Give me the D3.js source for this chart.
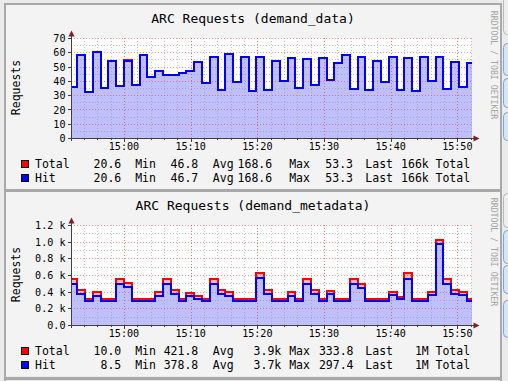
<!DOCTYPE html>
<html><head><meta charset="utf-8">
<script src="https://cdn.jsdelivr.net/npm/d3@7"></script>
<style>
html,body{margin:0;padding:0;background:#ebebeb;overflow:hidden}
svg{display:block}
text{font-family:"DejaVu Sans Mono",monospace;fill:#000}
</style></head><body>
<svg id="c" width="508" height="381"></svg>
<script>
// ---------- data ----------
const seriesNames = ["Total", "Hit"];
const dataTotal = [36.4,58.1,32.9,60.6,35.7,54.3,37.1,55.3,37.8,58.8,43.4,47.6,44.8,44.8,46.2,47.6,53.9,39.2,57.4,34.3,59.5,39.9,57.4,33.6,57.4,34.3,54.6,40.1,56.7,35.7,55.7,37.8,56.4,40.6,53.2,58.1,35.0,57.1,33.8,54.6,39.4,57.4,33.8,56.0,33.1,57.1,40.3,57.4,35.0,53.9,35.9,53.2];
const dataHit   = [36.4,58.1,32.9,60.6,35.7,54.3,37.1,54.6,37.8,58.8,43.4,47.6,44.8,44.8,46.2,47.6,53.9,39.2,57.4,34.3,59.5,39.9,57.4,33.6,57.4,34.3,54.6,40.1,56.7,35.7,55.7,37.8,56.4,40.6,53.2,58.1,35.0,57.1,33.8,54.6,39.4,57.4,33.8,56.0,33.1,57.1,40.3,57.4,35.0,53.9,35.9,53.2];
const metaTotal = [554,422,321,398,321,321,554,510,321,321,321,398,554,422,321,390,353,321,554,422,398,321,321,321,627,422,321,321,398,321,554,422,321,410,321,321,554,494,321,321,321,398,345,627,321,321,398,1025,554,422,398,321];
const metaHit   = [494,374,293,357,293,293,494,458,293,293,293,357,494,374,293,349,317,293,494,374,357,293,293,293,566,374,293,293,357,293,494,374,293,374,293,293,494,446,293,293,293,361,313,554,293,293,361,976,494,374,361,293];
const xTickLabels = ["15:00","15:10","15:20","15:30","15:40","15:50"];
const yTicksData = [0,10,20,30,40,50,60,70];
const yTickLabelsData = ["0","10","20","30","40","50","60","70"];
const yTicksMeta = [0,200,400,600,800,1000,1200];
const yTickLabelsMeta = ["0.0","0.2 k","0.4 k","0.6 k","0.8 k","1.0 k","1.2 k"];
const titles = ["ARC Requests (demand_data)", "ARC Requests (demand_metadata)"];
const yAxisTitle = "Requests";
const watermark = "RRDTOOL / TOBI OETIKER";
const legendDataTotal = ["Total","20.6","Min","46.8","Avg","168.6","Max","53.3","Last","166k","Total"];
const legendDataHit   = ["Hit","20.6","Min","46.7","Avg","168.6","Max","53.3","Last","166k","Total"];
const legendMetaTotal = ["Total","10.0","Min","421.8","Avg","3.9k","Max","333.8","Last","1M","Total"];
const legendMetaHit   = ["Hit","8.5","Min","378.8","Avg","3.7k","Max","297.4","Last","1M","Total"];

// time axis: window start, first step boundary, step length (seconds)
const tStart = new Date(2024, 0, 1, 14, 52, 3);
const windowSec = 3600;
const firstBoundarySec = 47.7;
const stepSec = 70.1;

// ---------- layout ----------
const svg = d3.select("#c");
const W = 508, H = 381;
const colors = {
  bg: "#f3f3f3", canvas: "#ffffff", frame: "#a8a8a8",
  totalLine: "#ff0000", totalFill: "#f7b9b9",
  hitLine: "#0000ff", hitFill: "#bfbffd",
  major: "rgba(235,60,60,0.55)", minor: "rgba(150,150,150,0.55)",
  axis: "#404040", arrow: "#7f1f1f", mark: "#a3a3a3"
};

svg.append("rect").attr("x",0).attr("y",0).attr("width",W).attr("height",H).attr("fill","#ebebeb");

function buildPoints(values) {
  const pts = values.map((v, i) => {
    const s = i === 0 ? 0 : firstBoundarySec + (i - 1) * stepSec;
    return { t: new Date(+tStart + s * 1000), v };
  });
  pts.push({ t: new Date(+tStart + windowSec * 1000), v: values[values.length - 1] });
  return pts;
}

function drawChart(cfg) {
  const dy = cfg.dy;
  const g = svg.append("g").attr("transform", `translate(0,${dy})`);
  g.append("rect").attr("x",5).attr("y",5).attr("width",495).attr("height",184).attr("fill",colors.bg);

  const x = d3.scaleTime().domain([tStart, new Date(+tStart + windowSec*1000)]).range([71, 471]);
  const y = d3.scaleLinear().domain(cfg.yDomain).range([138.5, 38.5]);
  const sx = d => Math.round(x(d.t)) + 1;
  const sy = d => Math.round(y(d.v));

  g.append("rect").attr("x",71).attr("y",38).attr("width",400).attr("height",100).attr("fill",colors.canvas);

  const pT = buildPoints(cfg.total), pH = buildPoints(cfg.hit);
  const area = d3.area().curve(d3.curveStepAfter).x(sx).y0(y(0)).y1(sy);
  const line = d3.line().curve(d3.curveStepAfter).x(sx).y(sy);

  g.append("path").attr("d", area(pT)).attr("fill", colors.totalFill).attr("shape-rendering","crispEdges");
  g.append("path").attr("d", area(pH)).attr("fill", colors.hitFill).attr("shape-rendering","crispEdges");

  // grid
  const gx = g.append("g").attr("shape-rendering","crispEdges");
  const minorX = d3.timeMinute.every(2).range(tStart, new Date(+tStart + windowSec*1000 + 1));
  const majorX = d3.timeMinute.every(10).range(tStart, new Date(+tStart + windowSec*1000 + 1));
  gx.selectAll(".mx").data(minorX).join("line")
    .attr("x1", d => Math.round(x(d)) + 0.5).attr("x2", d => Math.round(x(d)) + 0.5)
    .attr("y1", 138).attr("y2", 38).attr("stroke", colors.minor).attr("stroke-dasharray","1,2");
  gx.selectAll(".my").data(cfg.minorY).join("line")
    .attr("x1", 71).attr("x2", 471).attr("y1", d => Math.floor(y(d)) + 0.5).attr("y2", d => Math.floor(y(d)) + 0.5)
    .attr("stroke", colors.minor).attr("stroke-dasharray","1,2");
  gx.selectAll(".Mx").data(majorX).join("line")
    .attr("x1", d => Math.round(x(d)) + 0.5).attr("x2", d => Math.round(x(d)) + 0.5)
    .attr("y1", 138).attr("y2", 38).attr("stroke", colors.major).attr("stroke-dasharray","1,2");
  gx.selectAll(".My").data(cfg.yTicks.filter(d => d > 0)).join("line")
    .attr("x1", 71).attr("x2", 471).attr("y1", d => Math.floor(y(d)) + 0.5).attr("y2", d => Math.floor(y(d)) + 0.5)
    .attr("stroke", colors.major).attr("stroke-dasharray","1,2");

  // lines: exact 2px crisp strokes so identical series overlap cleanly
  g.append("path").attr("d", line(pT)).attr("fill","none").attr("stroke",colors.totalLine)
    .attr("stroke-width",2).attr("shape-rendering","crispEdges");
  g.append("path").attr("d", line(pH)).attr("fill","none").attr("stroke",colors.hitLine)
    .attr("stroke-width",2).attr("shape-rendering","crispEdges");

  // axes
  const ax = g.append("g").attr("shape-rendering","crispEdges");
  ax.append("line").attr("x1",68).attr("x2",474).attr("y1",138.5).attr("y2",138.5).attr("stroke",colors.axis);
  ax.append("line").attr("x1",71.5).attr("x2",71.5).attr("y1",141).attr("y2",35).attr("stroke",colors.axis);
  ax.selectAll(".tx").data(minorX).join("line")
    .attr("x1", d => Math.round(x(d)) + 0.5).attr("x2", d => Math.round(x(d)) + 0.5)
    .attr("y1", 138).attr("y2", d => majorX.some(m => +m === +d) ? 142 : 140).attr("stroke", colors.axis);
  ax.selectAll(".ty").data(cfg.yTicks).join("line")
    .attr("x1", 68).attr("x2", 71).attr("y1", d => Math.floor(y(d)) + 0.5).attr("y2", d => Math.floor(y(d)) + 0.5)
    .attr("stroke", colors.axis);
  g.append("path").attr("d","M68.5,36.5 L71.5,30.5 L74.5,36.5 Z").attr("fill",colors.arrow);
  g.append("path").attr("d","M473.5,135.5 L479.5,138.5 L473.5,141.5 Z").attr("fill",colors.arrow);

  // tick labels
  g.selectAll(".yl").data(cfg.yTicks).join("text")
    .attr("x", 65.5).attr("y", d => y(d) + 3.6).attr("text-anchor","end")
    .attr("font-size", 10.1).text((d, i) => cfg.yLabels[i]);
  g.selectAll(".xl").data(majorX).join("text")
    .attr("x", d => x(d)).attr("y", 149.5).attr("text-anchor","middle")
    .attr("font-size", 10.1).text(d => xTickLabels[majorX.indexOf(d)]);

  // titles
  g.append("text").attr("x",253).attr("y",23.3).attr("text-anchor","middle").attr("font-size",13).text(cfg.title);
  g.append("text").attr("transform","translate(19.6,87.5) rotate(-90)").attr("text-anchor","middle")
    .attr("font-size",11.5).text(yAxisTitle);
  g.append("text").attr("transform","translate(490.8,65) rotate(90)").attr("text-anchor","middle")
    .attr("font-size",8.2).style("fill",colors.mark).text(watermark);

  // legend
  const rows = [
    { vals: cfg.legTotal, color: colors.totalLine, y: 167.7 },
    { vals: cfg.legHit, color: colors.hitLine, y: 181.7 }
  ];
  rows.forEach((r) => {
    g.append("rect").attr("x",21.5).attr("y",r.y - 7.2).attr("width",7).attr("height",7)
      .attr("fill", r.color).attr("stroke","#000").attr("shape-rendering","crispEdges");
    r.vals.forEach((t, j) => {
      const p = cfg.legendPos[j];
      g.append("text").attr("x", p[0]).attr("y", r.y).attr("text-anchor", p[1])
        .attr("font-size", 11.5).text(t);
    });
  });
}

drawChart({
  dy: 0, yDomain: [0, 70], yTicks: yTicksData, yLabels: yTickLabelsData, minorY: [5,15,25,35,45,55,65],
  total: dataTotal, hit: dataHit, title: titles[0],
  legTotal: legendDataTotal, legHit: legendDataHit,
  legendPos: [[35,"start"],[121.3,"end"],[135.2,"start"],[198.3,"end"],[212.8,"start"],[272.2,"end"],[289.2,"start"],[353,"end"],[365.3,"start"],[428.8,"end"],[435.5,"start"]]
});
drawChart({
  dy: 187, yDomain: [0, 1200], yTicks: yTicksMeta, yLabels: yTickLabelsMeta, minorY: [100,300,500,700,900,1100],
  total: metaTotal, hit: metaHit, title: titles[1],
  legTotal: legendMetaTotal, legHit: legendMetaHit,
  legendPos: [[35,"start"],[121.3,"end"],[135.2,"start"],[198.3,"end"],[212.8,"start"],[281.3,"end"],[289.2,"start"],[353.5,"end"],[365.3,"start"],[428.8,"end"],[435.5,"start"]]
});

// frame lines
const fr = svg.append("g").attr("fill", colors.frame).attr("shape-rendering","crispEdges");
fr.append("rect").attr("x",4).attr("y",3).attr("width",498).attr("height",2);
fr.append("rect").attr("x",4).attr("y",3).attr("width",1.5).attr("height",378);
fr.append("rect").attr("x",500).attr("y",3).attr("width",2).attr("height",378);
fr.append("rect").attr("x",4).attr("y",189).attr("width",498).attr("height",3);
fr.append("rect").attr("x",4).attr("y",377).attr("width",498).attr("height",3);

// side buttons
const btns = [[-4,38,"#eeeeee","#b8b8b8"],[43,32,"#d5e5f6","#7fa6d0"],[78,29,"#d5e5f6","#7fa6d0"],[112,28,"#d5e5f6","#7fa6d0"],
              [193,34,"#eeeeee","#b8b8b8"],[230,33,"#d5e5f6","#7fa6d0"],[265,28,"#d5e5f6","#7fa6d0"],[300,37,"#d5e5f6","#7fa6d0"]];
btns.forEach(b => {
  svg.append("rect").attr("x",503.5).attr("y",b[0]+0.5).attr("width",14).attr("height",b[1])
    .attr("rx",4).attr("fill",b[2]).attr("stroke",b[3]);
});
</script>
</body></html>
